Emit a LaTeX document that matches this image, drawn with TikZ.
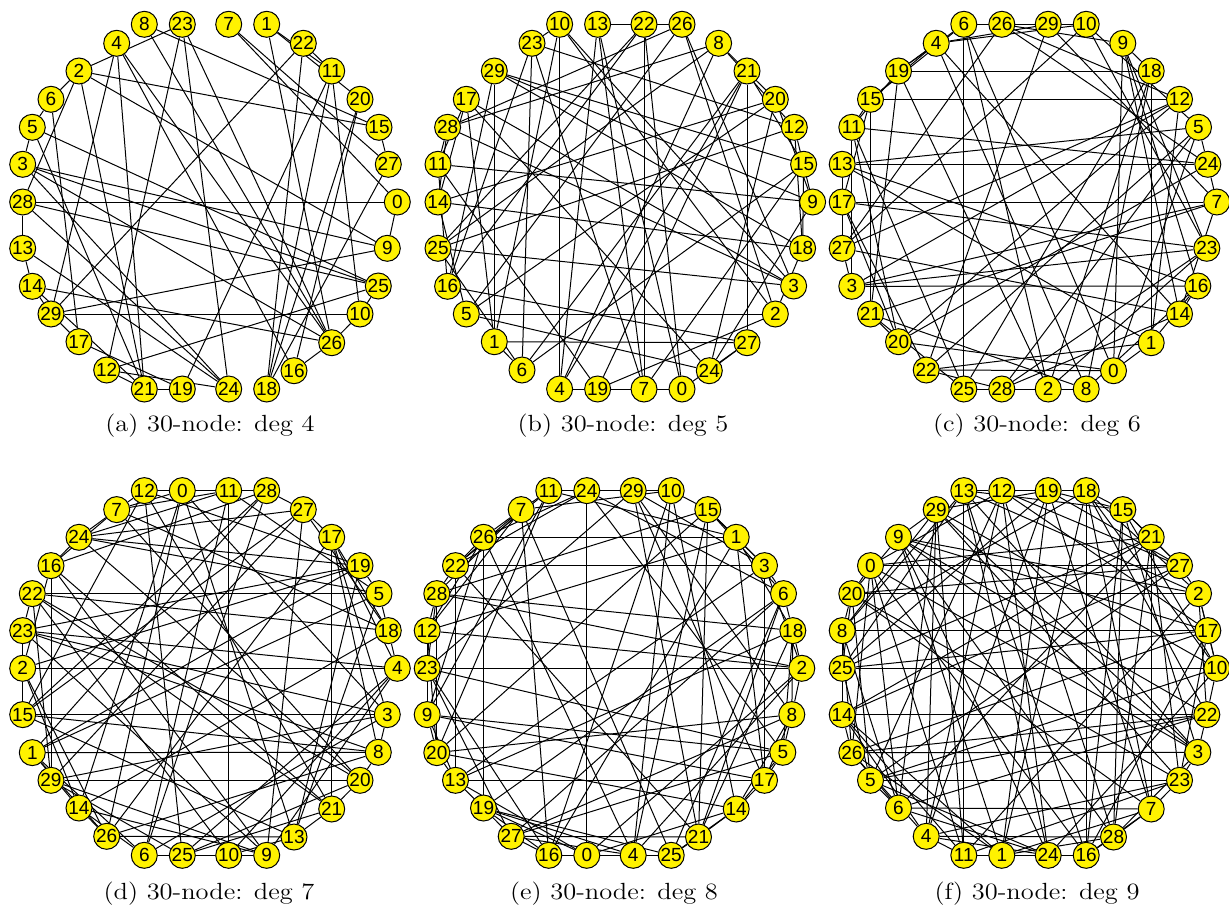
\documentclass[tikz,border=0pt]{standalone}
\usepackage{fontspec}
\newfontfamily\lblfont{Liberation Sans}
\pgfdeclarelayer{bg}
\pgfsetlayers{bg,main}
\tikzset{
  vtx/.style={circle,draw=black,fill=yellow,line width=0.5pt,minimum size=13pt,inner sep=0pt,font=\lblfont\fontsize{9.5}{10}\selectfont},
  lnk/.style={line width=0.5pt},
  subcap/.style={font=\fontsize{11.7}{14}\selectfont,xscale=1.13,transform shape}
}
\begin{document}
\begin{tikzpicture}[x=0.5pt,y=-0.5pt]
\useasboundingbox (0,0) rectangle (1229,910);
\foreach \px/\py [count=\i from 0] in {144.3/24.3,182.3/24.3,228.7/24.3,266.7/24.3,303.3/43.3,331.7/71,360/99.3,379/127.3,388.3/164.3,397.3/202,387.3/248.3,378.3/286,360/314,331.7/342.7,294/370.7,266.7/389,228.7/389,182.3/389,144.3/389,106.7/370,79/341.7,51/314,32.3/286.3,22.7/248.3,22.7/202,22.7/164.3,32.3/127.3,51/99.3,79/71,116.7/43.3}
  \coordinate (s\i) at (\px,\py);

\foreach \lab [count=\i from 0] in {8,23,7,1,22,11,20,15,27,0,9,25,10,26,16,18,24,19,21,12,17,29,14,13,28,3,5,6,2,4}
  \node[vtx] (a\lab) at (s\i) {\lab};
\foreach \lab [count=\i from 0] in {10,13,22,26,8,21,20,12,15,9,18,3,2,27,24,0,7,19,4,6,1,5,16,25,14,11,28,17,29,23}
  \node[vtx] (b\lab) at ([shift={(415.3,0)}]s\i) {\lab};
\foreach \lab [count=\i from 0] in {6,26,29,10,9,18,12,5,24,7,23,16,14,1,0,8,2,28,25,22,20,21,3,27,17,13,11,15,19,4}
  \node[vtx] (c\lab) at ([shift={(819.5,0)}]s\i) {\lab};
\foreach \lab [count=\i from 0] in {12,0,11,28,27,17,19,5,18,4,3,8,20,21,13,9,10,25,6,26,14,29,1,15,2,23,22,16,24,7}
  \node[vtx] (d\lab) at ([shift={(0,466.3)}]s\i) {\lab};
\foreach \lab [count=\i from 0] in {11,24,29,10,15,1,3,6,18,2,8,5,17,14,21,25,4,0,16,27,19,13,20,9,23,12,28,22,26,7}
  \node[vtx] (e\lab) at ([shift={(404.5,466.3)}]s\i) {\lab};
\foreach \lab [count=\i from 0] in {13,12,19,18,15,21,27,2,17,10,22,3,23,7,28,16,24,1,11,4,6,5,26,14,25,8,20,0,9,29}
  \node[vtx] (f\lab) at ([shift={(819.5,466.3)}]s\i) {\lab};

\begin{pgfonlayer}{bg}
\foreach \u/\v in {28/0,29/10,21/19,8/15,8/26,2/23,2/15,2/9,2/21,2/6,2/28,4/29,4/21,4/16,4/26,23/12,23/24,23/26,7/0,7/27,1/11,1/20,1/26,22/29,22/18,22/11,11/19,11/18,11/10,20/18,20/16,15/27,0/9,9/29,3/25,3/26,5/25,25/12,28/25,28/24,13/24,14/26,14/21,17/19,16/26,26/10,10/25,29/17,13/14,28/13,3/5,6/17,5/21,3/24,12/21,27/18,12/24,14/29,6/5,3/9}
  \draw[lnk] (a\u) -- (a\v);
\foreach \u/\v in {5/2,2/19,19/11,11/9,9/24,24/17,17/1,1/27,27/21,21/4,4/13,13/0,0/7,7/22,22/16,16/29,29/15,15/6,6/23,23/10,10/3,3/25,25/12,12/18,18/14,14/20,20/8,8/28,28/26,26/5,
  0/22,22/13,13/26,26/3,3/28,28/11,11/17,17/14,14/5,5/24,24/20,20/9,9/12,12/8,8/25,25/6,6/1,1/29,29/18,18/2,2/10,10/4,4/19,19/21,21/15,15/7,7/23,23/16,16/27,27/0,
  0/19,1/10,2/26,3/17,4/8,5/20,6/21,7/13,9/29,11/16,12/23,14/28,15/18,22/25,24/27}
  \draw[lnk] (b\u) -- (b\v);
\foreach \u/\v in {15/12,12/1,1/18,18/9,9/14,14/27,27/10,10/26,26/29,29/4,4/19,19/11,11/24,24/13,13/16,16/3,3/7,7/21,21/20,20/0,0/5,5/22,22/17,17/23,23/28,28/2,2/8,8/25,25/6,6/15,
  21/15,15/11,11/3,3/27,27/12,12/26,26/24,24/20,20/17,17/7,7/29,29/22,22/1,1/13,13/5,5/28,28/14,14/4,4/10,10/23,23/2,2/19,19/6,6/0,0/9,9/16,16/8,8/18,18/25,25/21,
  29/10,10/5,5/24,24/7,7/14,14/16,16/1,1/0,0/22,22/28,28/25,25/11,11/20,20/12,12/3,3/23,23/9,9/26,26/27,27/13,13/17,17/15,15/4,4/8,8/21,21/19,19/18,18/2,2/6,6/29}
  \draw[lnk] (c\u) -- (c\v);
\foreach \u/\v in {22/5,5/18,18/7,7/12,12/0,0/11,11/28,28/27,27/24,24/16,16/29,29/20,20/8,8/1,1/19,19/13,13/26,26/14,14/9,9/23,23/3,3/15,15/2,2/4,4/17,17/21,21/25,25/6,6/10,10/22,
  11/10,10/9,9/4,4/23,23/19,19/24,24/5,5/13,13/15,15/27,27/17,17/8,8/26,26/2,2/16,16/21,21/12,12/28,28/1,1/6,6/3,3/0,0/14,14/18,18/22,22/29,29/25,25/20,20/7,7/11,
  0/26,26/17,17/3,3/8,8/15,15/12,12/19,19/5,5/1,1/14,14/2,2/23,23/22,22/20,20/21,21/13,13/10,10/25,25/4,4/18,18/27,27/29,29/9,9/16,16/28,28/6,6/11,11/24,24/7,7/0,
  0/13,1/26,2/19,3/29,4/10,5/11,6/14,7/16,8/23,9/27,12/25,17/18,20/24,21/22,28/15}
  \draw[lnk] (d\u) -- (d\v);
\foreach \u/\v in {23/2,2/8,8/5,5/17,17/3,3/6,6/18,18/1,1/15,15/21,21/27,27/16,16/0,0/24,24/11,11/7,7/26,26/19,19/13,13/22,22/28,28/12,12/9,9/20,20/14,14/25,25/4,4/10,10/29,29/23,
  24/29,29/11,11/10,10/15,15/3,3/1,1/26,26/22,22/7,7/28,28/2,2/18,18/8,8/17,17/14,14/21,21/25,25/16,16/19,19/4,4/0,0/13,13/20,20/12,12/23,23/9,9/5,5/27,27/6,6/24,
  10/24,24/26,26/12,12/2,2/3,3/29,29/8,8/14,14/0,0/19,19/27,27/4,4/15,15/20,20/28,28/18,18/5,5/23,23/16,16/1,1/17,17/13,13/9,9/11,11/22,22/21,21/6,6/25,25/7,7/10,
  0/2,2/4,4/26,26/9,9/17,17/29,29/21,21/18,18/13,13/3,3/22,22/24,24/5,5/14,14/10,10/16,16/7,7/12,12/1,1/11,11/20,20/8,8/27,27/23,23/28,28/15,15/6,6/19,19/25,25/0}
  \draw[lnk] (e\u) -- (e\v);
\foreach \u/\v in {0/27,27/2,2/17,17/10,10/22,22/3,3/26,26/14,14/25,25/8,8/20,20/9,9/29,29/4,4/11,11/1,1/24,24/16,16/18,18/19,19/12,12/13,13/15,15/28,28/7,7/6,6/5,5/23,23/21,21/0,
  18/15,15/21,21/7,7/16,16/28,28/3,3/13,13/25,25/20,20/0,0/12,12/5,5/10,10/24,24/6,6/22,22/9,9/1,1/26,26/17,17/8,8/29,29/19,19/27,27/14,14/4,4/23,23/11,11/2,2/18,
  16/15,15/27,27/5,5/24,24/12,12/28,28/21,21/14,14/1,1/7,7/18,18/22,22/26,26/4,4/19,19/25,25/10,10/29,29/3,3/9,9/17,17/23,23/20,20/2,2/13,13/8,8/6,6/0,0/11,11/16,
  28/1,1/19,19/7,7/23,23/3,3/15,15/10,10/18,18/8,8/14,14/11,11/29,29/6,6/26,26/0,0/16,16/13,13/24,24/9,9/2,2/22,22/5,5/20,20/27,27/21,21/25,25/17,17/12,12/4,4/28,
  0/3,1/18,2/10,4/24,5/25,6/21,7/20,8/26,9/28,11/13,12/27,14/22,15/19,16/17,23/29}
  \draw[lnk] (f\u) -- (f\v);
\end{pgfonlayer}

\node[subcap] (capa) at (210,425.3) {(a) 30-node: deg 4};
\node[subcap] (capb) at (623,425.3) {(b) 30-node: deg 5};
\node[subcap] (capc) at (1037,425.3) {(c) 30-node: deg 6};
\node[subcap] (capd) at (209,893.3) {(d) 30-node: deg 7};
\node[subcap] (cape) at (614,893.3) {(e) 30-node: deg 8};
\node[subcap] (capf) at (1037,893.3) {(f) 30-node: deg 9};
\end{tikzpicture}
\end{document}
